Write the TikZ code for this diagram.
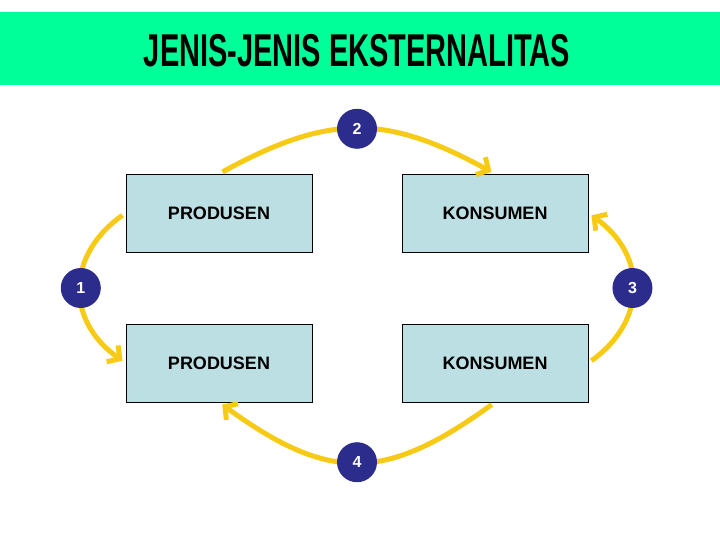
\documentclass[tikz,border=0pt]{standalone}
\usepackage{fontspec}
\setmainfont{Liberation Sans}
\usetikzlibrary{arrows.meta}
\definecolor{bargreen}{RGB}{0,255,153}
\definecolor{boxblue}{RGB}{188,223,227}
\definecolor{numblue}{RGB}{44,44,140}
\definecolor{flowyellow}{RGB}{247,203,21}

\begin{document}
\begin{tikzpicture}[x=1pt,y=-1pt,
    box/.style={draw=black,fill=boxblue,minimum width=186pt,minimum height=78pt,inner sep=0pt,font=\fontsize{18}{21}\selectfont\bfseries},
    num/.style={circle,fill=numblue,text=white,minimum size=40pt,inner sep=0pt,font=\fontsize{16}{18}\selectfont\bfseries},
    flow/.style={flowyellow,line width=5pt,shorten <=4pt,shorten >=4pt,-{Straight Barb[length=9pt,width=20pt]}}]
    \useasboundingbox (0,0) rectangle (720,540);
    % title bar
    \fill[bargreen] (0,12) rectangle (720,85);
    \node (title) at (357,51) {\fontsize{46}{50}\selectfont\bfseries\scalebox{0.63}[1]{JENIS-JENIS EKSTERNALITAS}};
    % boxes
    \node[box] (prodA) at (219,213) {PRODUSEN};
    \node[box] (konsA) at (495,213) {KONSUMEN};
    \node[box] (prodB) at (219,363) {PRODUSEN};
    \node[box] (konsB) at (495,363) {KONSUMEN};
    % externality arcs
    \draw[flow] (prodA.north) .. controls +(110,-60) and +(-110,-60) .. (konsA.north) node[num,pos=0.5] (n2) {2};
    \draw[flow] (prodA.west) .. controls +(-60,42) and +(-60,-42) .. (prodB.west) node[num,pos=0.5] (n1) {1};
    \draw[flow] (konsB.east) .. controls +(59,-42) and +(59,42) .. (konsA.east) node[num,pos=0.5] (n3) {3};
    \draw[flow] (konsB.south) .. controls +(-110,80) and +(110,80) .. (prodB.south) node[num,pos=0.5] (n4) {4};
\end{tikzpicture}
\end{document}
